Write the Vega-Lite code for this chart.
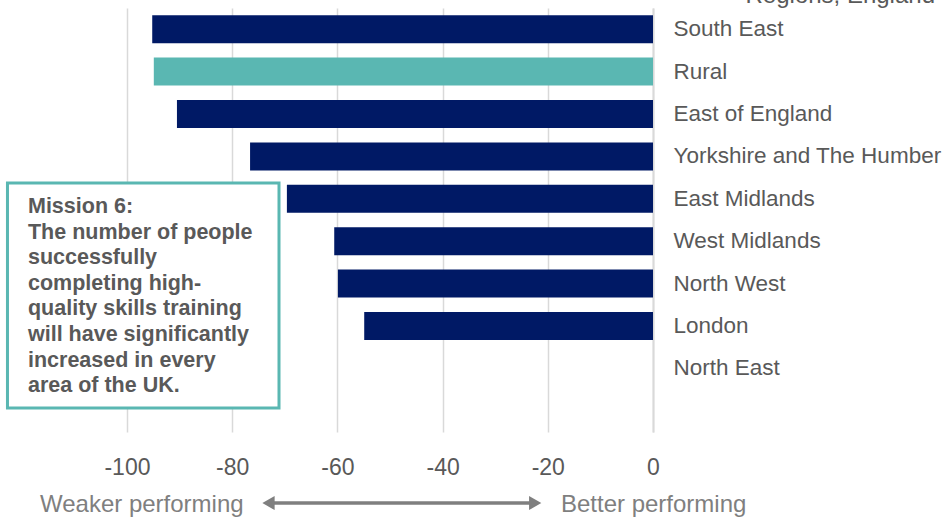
{
  "$schema": "https://vega.github.io/schema/vega-lite/v6.json",
  "width": 653,
  "height": 424,
  "autosize": {"type": "none"},
  "padding": {"left": 0, "top": 8, "right": 292, "bottom": 85},
  "background": "white",
  "config": {
    "view": {"stroke": null},
    "font": "Liberation Sans",
    "text": {"font": "Liberation Sans"}
  },
  "layer": [
    {
      "data": {
        "values": [
          {"region": "South East", "value": -95.2, "group": "Region"},
          {"region": "Rural", "value": -94.9, "group": "Rural"},
          {"region": "East of England", "value": -90.5, "group": "Region"},
          {"region": "Yorkshire and The Humber", "value": -76.6, "group": "Region"},
          {"region": "East Midlands", "value": -69.6, "group": "Region"},
          {"region": "West Midlands", "value": -60.6, "group": "Region"},
          {"region": "North West", "value": -59.9, "group": "Region"},
          {"region": "London", "value": -54.9, "group": "Region"},
          {"region": "North East", "value": 0, "group": "Region"}
        ]
      },
      "mark": {"type": "bar"},
      "encoding": {
        "x": {
          "field": "value",
          "type": "quantitative",
          "stack": null,
          "scale": {"domain": [-124.14, 0], "nice": false, "zero": false},
          "axis": {
            "values": [-100, -80, -60, -40, -20, 0],
            "labelExpr": "replace(datum.label, '\u2212', '-')",
            "labelFlush": false,
            "labelOverlap": false,
            "title": null,
            "grid": true,
            "gridColor": "#d9d9d9",
            "gridWidth": 1.5,
            "domain": false,
            "ticks": false,
            "labelPadding": 24,
            "labelFontSize": 23,
            "labelColor": "#595959",
            "labelFont": "Liberation Sans"
          }
        },
        "y": {
          "field": "region",
          "type": "nominal",
          "sort": null,
          "scale": {
            "domain": ["South East", "Rural", "East of England", "Yorkshire and The Humber", "East Midlands", "West Midlands", "North West", "London", "North East", ""],
            "paddingInner": 0.34,
            "paddingOuter": 0.17
          },
          "axis": {
            "orient": "right",
            "title": null,
            "ticks": false,
            "labelAlign": "left",
            "labelPadding": 20,
            "labelFontSize": 22.5,
            "labelColor": "#595959",
            "labelFont": "Liberation Sans",
            "labelLimit": 400,
            "domainColor": "#d9d9d9",
            "domainWidth": 2
          }
        },
        "color": {
          "field": "group",
          "type": "nominal",
          "scale": {"domain": ["Region", "Rural"], "range": ["#001965", "#5ab7b2"]},
          "legend": null
        }
      }
    },
    {
      "layer": [
        {
          "data": {"values": [{"x": -122.72, "x2": -71.1, "y": 58.73, "y2": 5.66}]},
          "mark": {"type": "rect", "fill": "white", "stroke": "#5ab7b2", "strokeWidth": 3},
          "encoding": {
            "x": {"field": "x", "type": "quantitative", "scale": {"domain": [-124.14, 0], "nice": false, "zero": false}},
            "x2": {"field": "x2"},
            "y": {"field": "y", "type": "quantitative", "scale": {"domain": [0, 100], "nice": false, "zero": false}, "axis": null},
            "y2": {"field": "y2"}
          }
        },
        {
          "data": {"values": [{"x": -118.82, "y": 51.65, "text": "Mission 6:\nThe number of people\nsuccessfully\ncompleting high-\nquality skills training\nwill have significantly\nincreased in every\narea of the UK."}]},
          "mark": {"type": "text", "align": "left", "baseline": "alphabetic", "lineBreak": "\n", "lineHeight": 25.6, "fontSize": 21.5, "fontWeight": "bold", "color": "#595959", "font": "Liberation Sans"},
          "encoding": {
            "x": {"field": "x", "type": "quantitative", "scale": {"domain": [-124.14, 0], "nice": false, "zero": false}},
            "y": {"field": "y", "type": "quantitative", "scale": {"domain": [0, 100], "nice": false, "zero": false}, "axis": null},
            "text": {"field": "text", "type": "nominal"}
          }
        },
        {
          "data": {"values": [
            {"x": -116.54, "y": -18.87, "text": "Weaker performing"},
            {"x": -17.5, "y": -18.87, "text": "Better performing"}
          ]},
          "mark": {"type": "text", "align": "left", "baseline": "alphabetic", "fontSize": 24, "color": "#7f7f7f", "font": "Liberation Sans"},
          "encoding": {
            "x": {"field": "x", "type": "quantitative", "scale": {"domain": [-124.14, 0], "nice": false, "zero": false}},
            "y": {"field": "y", "type": "quantitative", "scale": {"domain": [0, 100], "nice": false, "zero": false}, "axis": null},
            "text": {"field": "text", "type": "nominal"}
          }
        },
        {
          "data": {"values": [{"x": -72.5, "x2": -23.0, "y": -16.75}]},
          "mark": {"type": "rule", "color": "#7f7f7f", "strokeWidth": 3.5},
          "encoding": {
            "x": {"field": "x", "type": "quantitative", "scale": {"domain": [-124.14, 0], "nice": false, "zero": false}},
            "x2": {"field": "x2"},
            "y": {"field": "y", "type": "quantitative", "scale": {"domain": [0, 100], "nice": false, "zero": false}, "axis": null}
          }
        },
        {
          "data": {"values": [
            {"x": -73.1, "y": -16.75, "dir": "left"},
            {"x": -22.4, "y": -16.75, "dir": "right"}
          ]},
          "mark": {"type": "point", "filled": true, "color": "#7f7f7f", "opacity": 1, "size": 200},
          "encoding": {
            "x": {"field": "x", "type": "quantitative", "scale": {"domain": [-124.14, 0], "nice": false, "zero": false}},
            "y": {"field": "y", "type": "quantitative", "scale": {"domain": [0, 100], "nice": false, "zero": false}, "axis": null},
            "shape": {"field": "dir", "type": "nominal", "scale": {"domain": ["left", "right"], "range": ["triangle-left", "triangle-right"]}, "legend": null}
          }
        },
        {
          "data": {"values": [{"x": 53.61, "y": 101.18, "text": "Regions, England"}]},
          "mark": {"type": "text", "align": "right", "baseline": "alphabetic", "fontSize": 24, "color": "#595959", "font": "Liberation Sans"},
          "encoding": {
            "x": {"field": "x", "type": "quantitative", "scale": {"domain": [-124.14, 0], "nice": false, "zero": false}},
            "y": {"field": "y", "type": "quantitative", "scale": {"domain": [0, 100], "nice": false, "zero": false}, "axis": null},
            "text": {"field": "text", "type": "nominal"}
          }
        }
      ]
    }
  ],
  "resolve": {"scale": {"y": "independent"}, "axis": {"y": "independent"}}
}
